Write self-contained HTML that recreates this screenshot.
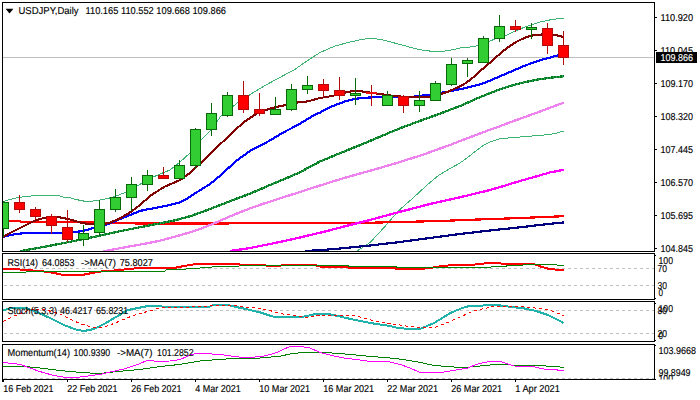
<!DOCTYPE html>
<html><head><meta charset="utf-8"><title>USDJPY Daily</title>
<style>
html,body{margin:0;padding:0;background:#fff;}
body{width:700px;height:400px;overflow:hidden;font-family:"Liberation Sans",sans-serif;}
svg{display:block;}
text{font-family:"Liberation Sans",sans-serif;font-size:10px;fill:#000;white-space:pre;stroke:#000;stroke-width:0.14px;}
.ln{fill:none;stroke-linejoin:round;stroke-linecap:butt;shape-rendering:crispEdges;}
</style></head><body>
<svg width="700" height="400" viewBox="0 0 700 400">
<rect x="0" y="0" width="700" height="400" fill="#fff"/>
<defs><clipPath id="cm"><rect x="3" y="3" width="651" height="248"/></clipPath><clipPath id="c1"><rect x="3" y="254" width="651" height="45"/></clipPath><clipPath id="c2"><rect x="3" y="302" width="651" height="39"/></clipPath><clipPath id="c3"><rect x="3" y="345" width="651" height="34"/></clipPath></defs>
<g clip-path="url(#cm)">
<line x1="3" y1="57.5" x2="654" y2="57.5" stroke="#c0c0c0" stroke-width="1" shape-rendering="crispEdges"/>
<polyline class="ln" points="3.0,201.6 10.0,199.4 19.0,197.3 27.0,196.4 35.0,195.7 43.0,195.3 56.0,195.3 60.0,196.0 64.0,197.2 70.0,197.8 76.0,199.5 86.0,201.5 93.0,201.0 100.0,200.0 108.0,198.5 116.0,196.0 124.0,193.0 130.0,190.0 137.0,186.0 144.0,182.0 152.0,177.5 160.0,174.0 170.0,170.0 180.0,162.0 190.0,153.0 201.0,140.0 210.0,131.0 221.0,116.0 230.0,109.0 238.0,102.4 250.0,94.6 260.0,88.4 275.0,80.0 294.0,70.0 307.0,61.0 320.0,52.5 335.0,46.0 350.0,42.0 362.0,39.4 371.0,38.3 380.0,39.3 390.0,41.8 400.0,44.5 415.0,48.5 425.0,50.6 436.0,51.6 445.0,51.0 453.0,49.6 460.0,48.0 475.0,46.5 485.0,43.0 495.0,39.0 505.0,36.0 515.0,31.0 525.0,27.0 540.0,22.0 552.0,19.5 563.6,18.0" stroke="#3cb371" stroke-width="1"/>
<polyline class="ln" points="357.0,251.0 364.0,246.5 370.0,242.5 379.0,233.0 388.0,223.0 394.0,216.0 400.0,209.5 406.0,204.0 412.0,199.0 421.0,190.6 430.0,182.5 439.0,175.0 450.0,168.6 460.0,163.0 466.0,158.6 472.0,154.0 478.0,149.4 484.0,145.0 491.0,141.6 499.0,139.0 510.0,137.8 520.0,137.0 535.0,135.8 550.0,134.5 557.0,133.0 563.6,131.0" stroke="#3cb371" stroke-width="1"/>
<polyline class="ln" points="305.0,251.0 320.0,250.2 340.0,248.5 370.0,245.5 400.0,242.0 430.0,238.0 460.0,234.0 490.0,230.5 520.0,227.3 550.0,223.8 563.6,222.4" stroke="#000080" stroke-width="2.2"/>
<polyline class="ln" points="3.0,220.8 19.0,220.8 21.0,221.9 70.0,222.2 115.0,222.8 131.0,222.8 133.0,223.4 158.0,223.6 228.0,223.5 232.0,223.0 280.0,223.0 330.0,223.0 350.0,223.2 400.0,222.0 440.0,221.0 475.0,219.6 510.0,218.4 540.0,217.2 563.6,216.2" stroke="#ff0000" stroke-width="2.2"/>
<polyline class="ln" points="230.0,251.0 240.0,249.6 250.0,248.0 262.0,245.6 275.0,243.0 288.0,240.2 300.0,237.5 312.0,234.6 325.0,231.5 337.0,228.4 350.0,225.0 370.0,220.0 400.0,211.8 430.0,204.0 460.0,197.3 490.0,190.0 505.0,185.6 520.0,181.0 537.0,176.2 550.0,172.4 563.6,169.8" stroke="#ff00ff" stroke-width="2.3"/>
<polyline class="ln" points="103.0,251.6 107.0,250.6 116.0,249.0 125.0,247.3 140.0,244.6 158.0,241.2 175.0,236.6 188.0,233.0 200.0,229.0 212.5,224.0 225.0,218.6 237.0,213.5 250.0,208.4 262.0,204.2 275.0,200.0 288.0,195.8 300.0,192.0 312.0,188.0 325.0,184.0 337.0,180.2 350.0,176.3 375.0,169.4 400.0,162.0 412.0,158.2 425.0,154.0 437.0,149.6 450.0,145.0 462.0,140.3 475.0,135.4 487.0,130.8 500.0,126.2 512.0,121.6 525.0,117.0 537.0,112.6 550.0,107.8 563.6,102.7" stroke="#ee82ee" stroke-width="2.3"/>
<polyline class="ln" points="20.0,251.5 24.0,250.4 40.0,247.6 60.0,243.8 80.0,239.8 100.0,235.6 120.0,231.2 140.0,227.2 160.0,223.4 175.0,220.3 190.0,216.3 204.0,211.3 217.0,206.3 230.0,201.2 240.0,197.4 250.0,193.6 260.0,189.4 270.0,185.0 285.0,178.8 300.0,172.3 310.0,166.8 320.0,161.4 335.0,155.3 350.0,149.1 362.0,144.3 375.0,138.8 388.0,133.3 400.0,128.3 412.0,123.8 425.0,119.0 437.0,114.8 450.0,109.8 462.0,105.3 475.0,99.3 487.0,94.3 500.0,89.3 510.0,86.0 520.0,83.4 530.0,81.0 540.0,79.2 550.0,77.8 563.6,76.3" stroke="#2aa656" stroke-width="2.3"/>
<polyline class="ln" points="20.0,251.5 24.0,250.4 40.0,247.6 60.0,243.8 80.0,239.8 100.0,235.6 120.0,231.2 140.0,227.2 160.0,223.4 175.0,220.3 190.0,216.3 204.0,211.3 217.0,206.3 230.0,201.2 240.0,197.4 250.0,193.6 260.0,189.4 270.0,185.0 285.0,178.8 300.0,172.3 310.0,166.8 320.0,161.4 335.0,155.3 350.0,149.1 362.0,144.3 375.0,138.8 388.0,133.3 400.0,128.3 412.0,123.8 425.0,119.0 437.0,114.8 450.0,109.8 462.0,105.3 475.0,99.3 487.0,94.3 500.0,89.3 510.0,86.0 520.0,83.4 530.0,81.0 540.0,79.2 550.0,77.8 563.6,76.3" stroke="#007a1c" stroke-width="2.3" stroke-dasharray="2,1"/>
<polyline class="ln" points="3.0,237.0 9.0,235.4 16.0,234.0 26.0,233.0 40.0,233.0 60.0,233.0 68.0,232.6 76.0,232.0 82.0,231.0 88.0,229.6 96.0,227.0 102.0,225.6 108.0,224.0 114.0,221.6 120.0,219.0 125.0,217.0 130.0,215.0 135.0,213.0 140.0,211.0 144.0,210.0 152.0,208.6 160.0,207.0 170.0,205.0 180.0,202.4 187.0,198.6 194.0,194.0 202.0,189.0 210.0,184.0 217.0,178.4 224.0,172.0 230.0,166.6 236.0,161.0 243.0,156.0 250.0,151.0 260.0,145.6 270.0,140.5 278.0,135.6 286.0,131.0 293.0,127.5 300.0,123.6 307.0,119.5 314.0,115.0 320.0,112.6 326.0,109.0 332.0,106.4 338.0,104.0 344.0,101.8 350.0,100.0 356.0,98.8 362.0,98.0 371.0,97.4 380.0,97.0 396.0,97.2 410.0,96.9 418.0,96.3 424.0,95.3 433.0,94.3 442.0,92.6 449.0,91.4 456.0,90.0 463.0,88.6 470.0,87.0 477.0,85.2 484.0,83.0 490.0,80.6 496.0,78.0 503.0,75.0 510.0,72.0 517.0,69.0 524.0,66.0 531.0,63.4 538.0,61.0 544.0,59.2 550.0,57.6 558.0,55.4 563.6,54.5" stroke="#0000ff" stroke-width="2.2"/>
<polyline class="ln" points="3.0,237.0 10.0,233.0 20.0,228.0 27.0,224.5 34.0,221.0 40.0,219.0 46.0,217.6 52.0,217.0 58.0,217.0 63.0,218.0 68.0,219.0 74.0,220.6 80.0,222.4 85.0,223.5 90.0,224.0 97.0,224.3 104.0,224.0 109.0,223.0 114.0,221.0 119.0,218.8 124.0,216.0 128.0,213.6 132.0,211.0 136.0,208.0 140.0,205.0 145.0,200.5 150.0,196.0 157.0,191.5 164.0,187.0 172.0,183.5 180.0,180.0 185.0,176.5 190.0,173.0 200.0,163.5 210.0,154.0 222.0,142.5 234.0,131.0 244.0,122.0 256.0,114.0 263.0,111.0 270.0,108.6 278.0,106.6 286.0,105.0 293.0,103.5 300.0,102.0 308.0,101.4 314.0,99.6 320.0,98.0 326.0,97.0 332.0,96.0 339.0,94.2 346.0,92.4 351.0,91.4 356.0,91.0 361.0,91.3 366.0,92.0 373.0,93.0 380.0,94.0 387.0,95.0 394.0,96.0 401.0,96.6 408.0,97.0 419.0,97.2 430.0,97.0 436.0,95.6 441.0,94.0 447.0,92.0 452.0,90.0 459.0,86.7 466.0,83.0 473.0,77.5 480.0,71.0 485.0,67.0 490.0,62.6 495.0,58.2 500.0,53.7 505.0,49.6 510.0,46.0 515.0,42.6 520.0,40.0 525.0,37.8 530.0,36.0 535.0,35.0 540.0,34.6 546.0,34.4 552.0,34.6 558.0,35.6 563.6,37.0" stroke="#800000" stroke-width="2.1"/>
<g shape-rendering="crispEdges">
<rect x="3" y="201" width="1" height="36" fill="#066806"/><rect x="-1.5" y="202.5" width="10" height="26" fill="#32cd32" stroke="#066806" stroke-width="1"/>
<rect x="19" y="195" width="1" height="18" fill="#b40a0a"/><rect x="14.5" y="202.5" width="10" height="7" fill="#ff0000" stroke="#b40a0a" stroke-width="1"/>
<rect x="35" y="207" width="1" height="12" fill="#b40a0a"/><rect x="30.5" y="209.5" width="10" height="7" fill="#ff0000" stroke="#b40a0a" stroke-width="1"/>
<rect x="51" y="214" width="1" height="20" fill="#b40a0a"/><rect x="46.5" y="216.5" width="10" height="9" fill="#ff0000" stroke="#b40a0a" stroke-width="1"/>
<rect x="67" y="210" width="1" height="32" fill="#b40a0a"/><rect x="62.5" y="227.5" width="10" height="12" fill="#ff0000" stroke="#b40a0a" stroke-width="1"/>
<rect x="83" y="225" width="1" height="21" fill="#066806"/><rect x="78.5" y="233.5" width="10" height="6" fill="#32cd32" stroke="#066806" stroke-width="1"/>
<rect x="99" y="200" width="1" height="36" fill="#066806"/><rect x="94.5" y="209.5" width="10" height="23" fill="#32cd32" stroke="#066806" stroke-width="1"/>
<rect x="115" y="189" width="1" height="23" fill="#066806"/><rect x="110.5" y="197.5" width="10" height="12" fill="#32cd32" stroke="#066806" stroke-width="1"/>
<rect x="131" y="177" width="1" height="34" fill="#066806"/><rect x="126.5" y="184.5" width="10" height="13" fill="#32cd32" stroke="#066806" stroke-width="1"/>
<rect x="147" y="170" width="1" height="21" fill="#066806"/><rect x="142.5" y="175.5" width="10" height="9" fill="#32cd32" stroke="#066806" stroke-width="1"/>
<rect x="163" y="167" width="1" height="12" fill="#b40a0a"/><rect x="158.5" y="175.5" width="10" height="3" fill="#ff0000" stroke="#b40a0a" stroke-width="1"/>
<rect x="179" y="160" width="1" height="19" fill="#066806"/><rect x="174.5" y="165.5" width="10" height="13" fill="#32cd32" stroke="#066806" stroke-width="1"/>
<rect x="195" y="128" width="1" height="41" fill="#066806"/><rect x="190.5" y="129.5" width="10" height="36" fill="#32cd32" stroke="#066806" stroke-width="1"/>
<rect x="211" y="103" width="1" height="33" fill="#066806"/><rect x="206.5" y="113.5" width="10" height="16" fill="#32cd32" stroke="#066806" stroke-width="1"/>
<rect x="227" y="92" width="1" height="25" fill="#066806"/><rect x="222.5" y="95.5" width="10" height="20" fill="#32cd32" stroke="#066806" stroke-width="1"/>
<rect x="243" y="81" width="1" height="32" fill="#b40a0a"/><rect x="238.5" y="95.5" width="10" height="14" fill="#ff0000" stroke="#b40a0a" stroke-width="1"/>
<rect x="259" y="93" width="1" height="23" fill="#b40a0a"/><rect x="254.5" y="109.5" width="10" height="4" fill="#ff0000" stroke="#b40a0a" stroke-width="1"/>
<rect x="275" y="97" width="1" height="18" fill="#066806"/><rect x="270.5" y="109.5" width="10" height="5" fill="#32cd32" stroke="#066806" stroke-width="1"/>
<rect x="291" y="84" width="1" height="27" fill="#066806"/><rect x="286.5" y="89.5" width="10" height="20" fill="#32cd32" stroke="#066806" stroke-width="1"/>
<rect x="307" y="76" width="1" height="18" fill="#066806"/><rect x="302.5" y="85.5" width="10" height="4" fill="#32cd32" stroke="#066806" stroke-width="1"/>
<rect x="323" y="79" width="1" height="18" fill="#b40a0a"/><rect x="318.5" y="84.5" width="10" height="6" fill="#ff0000" stroke="#b40a0a" stroke-width="1"/>
<rect x="339" y="77" width="1" height="23" fill="#b40a0a"/><rect x="334.5" y="90.5" width="10" height="5" fill="#ff0000" stroke="#b40a0a" stroke-width="1"/>
<rect x="355" y="78" width="1" height="27" fill="#066806"/><rect x="350.5" y="93.5" width="10" height="2" fill="#32cd32" stroke="#066806" stroke-width="1"/>
<rect x="371" y="85" width="1" height="21" fill="#b40a0a"/><rect x="366" y="92" width="11" height="2" fill="#ee1010"/>
<rect x="387" y="91" width="1" height="15" fill="#066806"/><rect x="382.5" y="95.5" width="10" height="10" fill="#32cd32" stroke="#066806" stroke-width="1"/>
<rect x="403" y="95" width="1" height="18" fill="#b40a0a"/><rect x="398.5" y="96.5" width="10" height="9" fill="#ff0000" stroke="#b40a0a" stroke-width="1"/>
<rect x="419" y="91" width="1" height="21" fill="#066806"/><rect x="414.5" y="100.5" width="10" height="5" fill="#32cd32" stroke="#066806" stroke-width="1"/>
<rect x="435" y="81" width="1" height="20" fill="#066806"/><rect x="430.5" y="83.5" width="10" height="17" fill="#32cd32" stroke="#066806" stroke-width="1"/>
<rect x="451" y="58" width="1" height="28" fill="#066806"/><rect x="446.5" y="64.5" width="10" height="20" fill="#32cd32" stroke="#066806" stroke-width="1"/>
<rect x="467" y="58" width="1" height="19" fill="#066806"/><rect x="462.5" y="60.5" width="10" height="3" fill="#32cd32" stroke="#066806" stroke-width="1"/>
<rect x="483" y="36" width="1" height="27" fill="#066806"/><rect x="478.5" y="38.5" width="10" height="24" fill="#32cd32" stroke="#066806" stroke-width="1"/>
<rect x="499" y="15" width="1" height="27" fill="#066806"/><rect x="494.5" y="26.5" width="10" height="12" fill="#32cd32" stroke="#066806" stroke-width="1"/>
<rect x="515" y="20" width="1" height="12" fill="#b40a0a"/><rect x="510.5" y="26.5" width="10" height="3" fill="#ff0000" stroke="#b40a0a" stroke-width="1"/>
<rect x="531" y="23" width="1" height="16" fill="#066806"/><rect x="526.5" y="27.5" width="10" height="2" fill="#32cd32" stroke="#066806" stroke-width="1"/>
<rect x="547" y="23" width="1" height="31" fill="#b40a0a"/><rect x="542.5" y="28.5" width="10" height="17" fill="#ff0000" stroke="#b40a0a" stroke-width="1"/>
<rect x="563" y="31" width="1" height="34" fill="#b40a0a"/><rect x="558.5" y="45.5" width="10" height="12" fill="#ff0000" stroke="#b40a0a" stroke-width="1"/>
</g>
</g>
<g clip-path="url(#c1)">
<line x1="4" y1="268.5" x2="654" y2="268.5" stroke="#c0c0c0" stroke-width="1" stroke-dasharray="3,3" shape-rendering="crispEdges"/>
<line x1="4" y1="285.5" x2="654" y2="285.5" stroke="#c0c0c0" stroke-width="1" stroke-dasharray="3,3" shape-rendering="crispEdges"/>
<polyline class="ln" points="3.0,268.5 20.0,269.5 40.0,271.0 50.0,272.4 57.0,273.6 63.0,275.0 82.0,275.0 88.0,273.8 94.0,272.6 100.0,271.6 110.0,270.8 120.0,270.0 130.0,268.8 140.0,268.0 160.0,268.0 176.0,267.6 184.0,266.0 190.0,265.0 196.0,264.0 200.0,263.6 234.0,263.6 240.0,264.6 250.0,265.4 280.0,265.6 292.0,264.6 315.0,264.6 317.0,266.0 324.0,267.0 346.0,267.0 348.0,267.6 394.0,267.6 396.0,269.0 420.0,269.0 430.0,268.0 440.0,266.4 452.0,265.0 474.0,265.0 476.0,264.0 484.0,263.5 486.0,263.0 500.0,263.0 502.0,264.0 534.0,264.0 540.0,266.4 548.0,268.6 556.0,269.6 563.6,269.6" stroke="#ff0000" stroke-width="2.0"/>
<polyline class="ln" points="3.0,272.0 26.0,272.0 27.0,271.0 100.0,271.0 101.0,271.6 130.0,271.6 140.0,271.0 165.0,271.0 166.0,270.0 180.0,269.4 200.0,268.0 220.0,266.4 240.0,266.0 280.0,265.6 348.0,265.6 349.0,266.4 396.0,266.4 397.0,267.6 490.0,267.4 492.0,266.4 506.0,266.4 507.0,265.4 522.0,265.4 524.0,264.4 556.0,264.4 558.0,265.4 563.6,265.4" stroke="#008000" stroke-width="1"/>
</g>
<g clip-path="url(#c2)">
<line x1="4" y1="310.5" x2="654" y2="310.5" stroke="#c0c0c0" stroke-width="1" stroke-dasharray="3,3" shape-rendering="crispEdges"/>
<line x1="4" y1="333.5" x2="654" y2="333.5" stroke="#c0c0c0" stroke-width="1" stroke-dasharray="3,3" shape-rendering="crispEdges"/>
<polyline class="ln" points="3.0,310.6 9.0,308.6 15.0,307.5 25.0,307.5 31.0,309.8 40.0,313.4 52.0,319.0 64.0,325.0 76.0,329.6 84.0,331.0 94.0,329.0 104.0,324.0 116.0,317.0 128.0,310.0 140.0,307.6 148.0,306.0 160.0,306.0 166.0,307.4 180.0,306.6 210.0,306.6 214.0,304.6 226.0,304.6 234.0,306.6 246.0,309.0 260.0,312.4 272.0,316.4 280.0,317.0 304.0,316.6 314.0,314.4 320.0,314.0 328.0,314.0 336.0,315.6 348.0,318.4 360.0,321.0 374.0,323.6 388.0,325.6 400.0,328.4 420.0,329.0 434.0,323.0 444.0,317.0 450.0,313.2 456.0,310.6 462.0,308.2 468.0,306.3 476.0,305.8 483.0,305.6 485.0,304.8 499.0,304.8 501.0,305.8 507.0,306.0 509.0,307.0 516.0,307.2 518.0,308.2 524.0,308.4 536.0,311.0 548.0,315.0 560.0,321.0 563.6,323.0" stroke="#20b2aa" stroke-width="2.0"/>
<polyline class="ln" points="3.0,321.6 12.0,317.0 24.0,312.0 34.0,309.0 46.0,310.0 60.0,314.0 70.0,319.0 80.0,323.6 90.0,326.6 100.0,328.0 110.0,325.0 120.0,321.0 132.0,316.0 140.0,313.6 154.0,309.6 162.0,307.6 180.0,307.4 200.0,306.6 220.0,305.4 234.0,305.6 246.0,307.0 260.0,308.6 268.0,310.0 280.0,313.5 290.0,315.0 304.0,317.0 310.0,317.0 320.0,315.0 340.0,315.0 356.0,316.0 366.0,318.4 374.0,321.0 386.0,323.0 400.0,325.0 410.0,326.6 420.0,327.5 436.0,327.0 448.0,322.4 460.0,317.0 472.0,311.6 484.0,308.6 496.0,306.0 510.0,306.0 524.0,307.0 540.0,308.4 550.0,310.4 560.0,314.0 563.6,315.6" stroke="#ff0000" stroke-width="1" stroke-dasharray="3,3"/>
</g>
<g clip-path="url(#c3)">
<polyline class="ln" points="3.0,366.0 24.0,366.4 40.0,368.0 56.0,370.0 70.0,371.6 90.0,373.0 104.0,373.0 116.0,371.6 130.0,370.4 140.0,369.4 160.0,366.6 180.0,364.4 200.0,361.0 220.0,359.4 240.0,358.0 260.0,358.0 280.0,356.2 292.0,353.6 304.0,352.4 320.0,352.4 332.0,353.0 350.0,354.4 370.0,356.4 390.0,358.0 404.0,359.6 420.0,362.4 432.0,365.0 444.0,366.4 464.0,367.6 476.0,366.4 490.0,365.0 504.0,364.0 514.0,365.4 540.0,365.6 560.0,367.0 563.6,367.4" stroke="#008000" stroke-width="1"/>
<polyline class="ln" points="3.0,362.4 20.0,364.4 30.0,368.0 40.0,371.6 52.0,375.0 66.0,377.6 76.0,377.6 88.0,376.0 100.0,374.4 112.0,371.6 124.0,369.0 136.0,365.0 140.0,363.6 148.0,360.0 156.0,361.4 170.0,361.0 180.0,359.6 190.0,355.0 196.0,353.4 204.0,353.6 220.0,354.4 234.0,356.4 244.0,357.6 252.0,357.4 264.0,356.0 274.0,353.6 280.0,351.0 290.0,346.4 300.0,346.4 310.0,348.0 320.0,352.4 332.0,355.6 344.0,358.0 360.0,360.0 370.0,361.4 388.0,361.6 400.0,364.4 410.0,368.0 420.0,372.4 442.0,372.4 454.0,370.4 468.0,368.0 476.0,364.4 484.0,362.4 492.0,361.4 500.0,361.4 508.0,364.0 514.0,366.0 532.0,366.4 544.0,369.0 560.0,370.2 563.6,370.2" stroke="#ff00ff" stroke-width="1"/>
</g>
<g shape-rendering="crispEdges" fill="#000">
<rect x="2" y="2" width="653" height="1"/><rect x="2" y="2" width="1" height="250"/><rect x="2" y="251" width="653" height="1"/><rect x="654" y="2" width="1" height="250"/>
<rect x="2" y="253" width="653" height="1"/><rect x="2" y="253" width="1" height="47"/><rect x="2" y="299" width="653" height="1"/><rect x="654" y="253" width="1" height="47"/>
<rect x="2" y="301" width="653" height="1"/><rect x="2" y="301" width="1" height="41"/><rect x="2" y="341" width="653" height="1"/><rect x="654" y="301" width="1" height="41"/>
<rect x="2" y="344" width="653" height="1"/><rect x="2" y="344" width="1" height="38"/><rect x="2" y="379" width="653" height="1"/><rect x="654" y="344" width="1" height="36"/>
<rect x="655" y="17" width="2" height="1"/><rect x="655" y="50" width="2" height="1"/><rect x="655" y="83" width="2" height="1"/><rect x="655" y="116" width="2" height="1"/><rect x="655" y="149" width="2" height="1"/><rect x="655" y="182" width="2" height="1"/><rect x="655" y="215" width="2" height="1"/><rect x="655" y="248" width="2" height="1"/><rect x="655" y="255" width="1" height="1"/><rect x="655" y="298" width="1" height="1"/><rect x="655" y="303" width="1" height="1"/><rect x="655" y="340" width="1" height="1"/><rect x="655" y="345" width="1" height="1"/><rect x="655" y="379" width="1" height="1"/><rect x="3" y="380" width="1" height="2"/><rect x="67" y="380" width="1" height="2"/><rect x="131" y="380" width="1" height="2"/><rect x="195" y="380" width="1" height="2"/><rect x="259" y="380" width="1" height="2"/><rect x="323" y="380" width="1" height="2"/><rect x="387" y="380" width="1" height="2"/><rect x="451" y="380" width="1" height="2"/><rect x="515" y="380" width="1" height="2"/>
</g>
<line x1="4" y1="378.5" x2="654" y2="378.5" stroke="#c0c0c0" stroke-width="1" stroke-dasharray="3,3" shape-rendering="crispEdges"/>
<path d="M5.6 8.7 L13.4 8.7 L9.5 13.4 Z" fill="#000"/>
<text x="18.5" y="14" transform="rotate(0.03 18.5 14)" textLength="60" lengthAdjust="spacingAndGlyphs">USDJPY,Daily</text>
<text x="85.5" y="14" transform="rotate(0.03 85.5 14)" textLength="140.5" lengthAdjust="spacingAndGlyphs">110.165 110.552 109.668 109.866</text>
<text x="660.5" y="21" transform="rotate(0.03 660.5 21)" textLength="32.5" lengthAdjust="spacingAndGlyphs">110.920</text>
<text x="660.5" y="54" transform="rotate(0.03 660.5 54)" textLength="32.5" lengthAdjust="spacingAndGlyphs">110.045</text>
<text x="660.5" y="87" transform="rotate(0.03 660.5 87)" textLength="32.5" lengthAdjust="spacingAndGlyphs">109.170</text>
<text x="660.5" y="120" transform="rotate(0.03 660.5 120)" textLength="32.5" lengthAdjust="spacingAndGlyphs">108.320</text>
<text x="660.5" y="153" transform="rotate(0.03 660.5 153)" textLength="32.5" lengthAdjust="spacingAndGlyphs">107.445</text>
<text x="660.5" y="186" transform="rotate(0.03 660.5 186)" textLength="32.5" lengthAdjust="spacingAndGlyphs">106.570</text>
<text x="660.5" y="219" transform="rotate(0.03 660.5 219)" textLength="32.5" lengthAdjust="spacingAndGlyphs">105.695</text>
<text x="660.5" y="252" transform="rotate(0.03 660.5 252)" textLength="32.5" lengthAdjust="spacingAndGlyphs">104.845</text>
<rect x="656" y="52" width="41" height="11" fill="#000" shape-rendering="crispEdges"/>
<text x="660.5" y="61" transform="rotate(0.03 660.5 61)" textLength="32.5" lengthAdjust="spacingAndGlyphs" style="fill:#fff;stroke:#fff">109.866</text>
<text x="7.4" y="266" transform="rotate(0.03 7.4 266)" textLength="30.6" lengthAdjust="spacingAndGlyphs">RSI(14)</text>
<text x="42" y="266" transform="rotate(0.03 42 266)" textLength="32.6" lengthAdjust="spacingAndGlyphs">64.0853</text>
<text x="81" y="266" transform="rotate(0.03 81 266)" textLength="35" lengthAdjust="spacingAndGlyphs">-&gt;MA(7)</text>
<text x="119.8" y="266" transform="rotate(0.03 119.8 266)" textLength="33" lengthAdjust="spacingAndGlyphs">75.8027</text>
<text x="7.4" y="314" transform="rotate(0.03 7.4 314)" textLength="49.6" lengthAdjust="spacingAndGlyphs">Stoch(5,3,3)</text>
<text x="60" y="314" transform="rotate(0.03 60 314)" textLength="32.4" lengthAdjust="spacingAndGlyphs">46.4217</text>
<text x="96" y="314" transform="rotate(0.03 96 314)" textLength="32.2" lengthAdjust="spacingAndGlyphs">65.8231</text>
<text x="7.6" y="356" transform="rotate(0.03 7.6 356)" textLength="62.4" lengthAdjust="spacingAndGlyphs">Momentum(14)</text>
<text x="73.6" y="356" transform="rotate(0.03 73.6 356)" textLength="36.6" lengthAdjust="spacingAndGlyphs">100.9390</text>
<text x="117" y="356" transform="rotate(0.03 117 356)" textLength="35.5" lengthAdjust="spacingAndGlyphs">-&gt;MA(7)</text>
<text x="157" y="356" transform="rotate(0.03 157 356)" textLength="36.6" lengthAdjust="spacingAndGlyphs">101.2852</text>
<text x="658.5" y="264" transform="rotate(0.03 658.5 264)" textLength="14.5" lengthAdjust="spacingAndGlyphs">100</text>
<text x="657.5" y="272" transform="rotate(0.03 657.5 272)" textLength="9.5" lengthAdjust="spacingAndGlyphs">70</text>
<text x="657.5" y="289" transform="rotate(0.03 657.5 289)" textLength="9.5" lengthAdjust="spacingAndGlyphs">30</text>
<text x="658.5" y="296" transform="rotate(0.03 658.5 296)" textLength="4.5" lengthAdjust="spacingAndGlyphs">0</text>
<text x="658.5" y="312" transform="rotate(0.03 658.5 312)" textLength="14.5" lengthAdjust="spacingAndGlyphs">100</text>
<text x="657.5" y="314" transform="rotate(0.03 657.5 314)" textLength="9.5" lengthAdjust="spacingAndGlyphs">80</text>
<text x="657.5" y="337" transform="rotate(0.03 657.5 337)" textLength="9.5" lengthAdjust="spacingAndGlyphs">20</text>
<text x="658.5" y="339" transform="rotate(0.03 658.5 339)" textLength="4.5" lengthAdjust="spacingAndGlyphs">0</text>
<text x="658.5" y="354" transform="rotate(0.03 658.5 354)" textLength="37.5" lengthAdjust="spacingAndGlyphs">103.9668</text>
<text x="658.5" y="376" transform="rotate(0.03 658.5 376)" textLength="32" lengthAdjust="spacingAndGlyphs">99.8949</text>
<g clip-path="url(#cb)"><clipPath id="cb"><rect x="650" y="370" width="50" height="9.5"/></clipPath><text x="658.5" y="382" transform="rotate(0.03 658.5 382)" textLength="14.5" lengthAdjust="spacingAndGlyphs">100</text></g>
<text x="3.3" y="392" transform="rotate(0.03 3.3 392)" textLength="50.2" lengthAdjust="spacingAndGlyphs">16 Feb 2021</text>
<text x="67.3" y="392" transform="rotate(0.03 67.3 392)" textLength="50.2" lengthAdjust="spacingAndGlyphs">22 Feb 2021</text>
<text x="131.3" y="392" transform="rotate(0.03 131.3 392)" textLength="50.2" lengthAdjust="spacingAndGlyphs">26 Feb 2021</text>
<text x="195.3" y="392" transform="rotate(0.03 195.3 392)" textLength="45.5" lengthAdjust="spacingAndGlyphs">4 Mar 2021</text>
<text x="259.3" y="392" transform="rotate(0.03 259.3 392)" textLength="50.8" lengthAdjust="spacingAndGlyphs">10 Mar 2021</text>
<text x="323.3" y="392" transform="rotate(0.03 323.3 392)" textLength="50.8" lengthAdjust="spacingAndGlyphs">16 Mar 2021</text>
<text x="387.3" y="392" transform="rotate(0.03 387.3 392)" textLength="50.8" lengthAdjust="spacingAndGlyphs">22 Mar 2021</text>
<text x="451.3" y="392" transform="rotate(0.03 451.3 392)" textLength="50.8" lengthAdjust="spacingAndGlyphs">26 Mar 2021</text>
<text x="515.3" y="392" transform="rotate(0.03 515.3 392)" textLength="44.5" lengthAdjust="spacingAndGlyphs">1 Apr 2021</text>
</svg>
</body></html>
